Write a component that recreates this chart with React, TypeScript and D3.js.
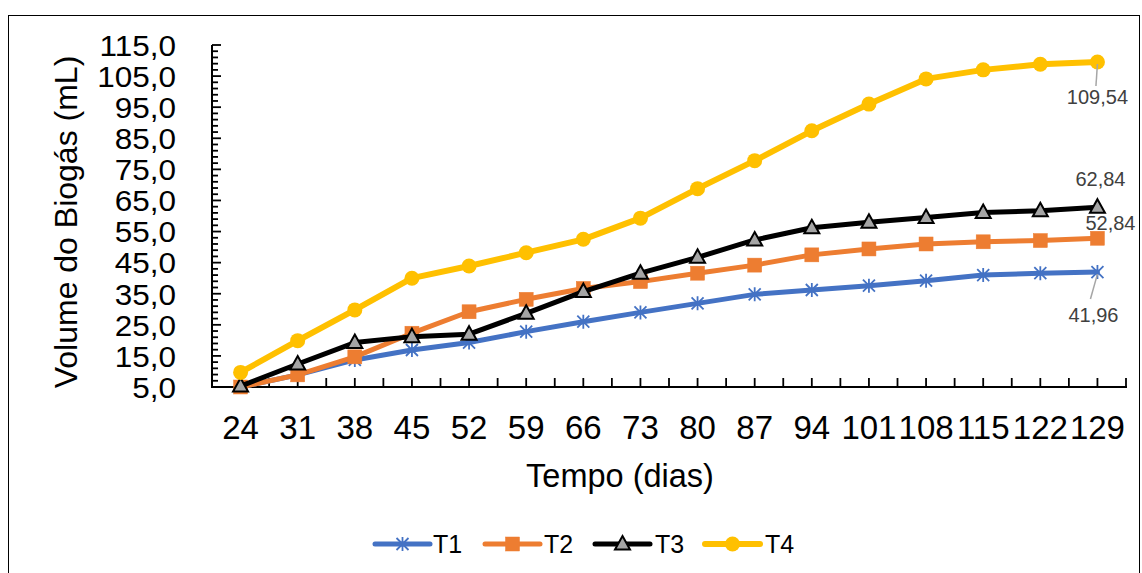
import React from "react";
import * as d3 from "d3";

const days = ["24", "31", "38", "45", "52", "59", "66", "73", "80", "87", "94", "101", "108", "115", "122", "129"];
const t1 = [5.0, 8.9, 13.7, 16.9, 19.3, 22.8, 26.0, 29.0, 31.9, 34.8, 36.2, 37.6, 39.2, 41.0, 41.6, 41.96];
const t2 = [5.0, 8.9, 14.7, 22.3, 29.2, 33.2, 36.7, 38.9, 41.6, 44.2, 47.5, 49.4, 51.0, 51.7, 52.1, 52.84];
const t3 = [5.3, 12.4, 19.3, 21.2, 22.0, 28.7, 35.7, 41.6, 46.7, 52.3, 56.2, 58.0, 59.5, 61.1, 61.7, 62.84];
const t4 = [9.7, 19.9, 29.8, 40.0, 43.9, 48.2, 52.5, 59.3, 68.8, 77.8, 87.4, 96.0, 104.1, 107.0, 108.8, 109.54];
const seriesNames = ["T1", "T2", "T3", "T4"];
const yTickValues = [5, 15, 25, 35, 45, 55, 65, 75, 85, 95, 105, 115];
const lastLabels = ["41,96", "52,84", "62,84", "109,54"];

const FONT = "'Liberation Sans', Arial, sans-serif";
const colors = ["#4472C4", "#ED7D31", "#000000", "#FFC000"];

function Marker({ kind, x, y }: { kind: number; x: number; y: number }) {
  if (kind === 0) {
    const r = 6;
    return (
      <path
        d={`M${x - r},${y - r}L${x + r},${y + r}M${x - r},${y + r}L${x + r},${y - r}M${x},${y - r - 1}L${x},${y + r + 1}`}
        stroke="#4472C4"
        strokeWidth={1.8}
        fill="none"
      />
    );
  }
  if (kind === 1) {
    return <rect x={x - 7} y={y - 7} width={14} height={14} fill="#ED7D31" stroke="#ED7D31" strokeWidth={0.5} />;
  }
  if (kind === 2) {
    return (
      <path
        d={`M${x},${y - 8}L${x + 7.5},${y + 5.5}L${x - 7.5},${y + 5.5}Z`}
        fill="#A5A5A5"
        stroke="#000"
        strokeWidth={2}
        strokeLinejoin="miter"
      />
    );
  }
  return <circle cx={x} cy={y} r={7.5} fill="#FFC000" />;
}

export default function App() {
  const W = 1142;
  const H = 573;
  const x = d3.scaleBand<string>().domain(days).range([212, 1126]).padding(0);
  const bw = x.bandwidth();
  const cx = (d: string) => (x(d) as number) + bw / 2;
  const y = d3.scaleLinear().domain([5, 115]).range([387, 45]);
  const all = [t1, t2, t3, t4];
  const line = d3
    .line<number>()
    .x((_, i) => cx(days[i]))
    .y((v) => y(v));

  const minorY = d3.range(5, 116, 2);
  const xTicks: number[] = [];
  for (let i = 0; i <= days.length * 2; i++) xTicks.push(212 + (i * bw) / 2);

  const lastX = cx(days[days.length - 1]);

  const legendItems = [
    { lx: 375, tx: 433 },
    { lx: 485, tx: 544 },
    { lx: 595, tx: 655 },
    { lx: 705, tx: 765 },
  ];
  const legendY = 544;

  return (
    <svg width={W} height={H} style={{ position: "absolute", left: 0, top: 0, background: "#fff" }} fontFamily={FONT}>
      <rect x={0} y={0} width={W} height={H} fill="#fff" />
      <rect x={8.5} y={15.5} width={1131} height={600} fill="none" stroke="#000" strokeWidth={1} />

      {/* y axis */}
      <line x1={212} y1={y(115)} x2={212} y2={y(5)} stroke="#000" strokeWidth={2} />
      {minorY.map((v) => {
        const major = (v - 5) % 10 === 0;
        return (
          <line key={"ym" + v} x1={212} x2={212 + (major ? 9 : 6)} y1={y(v)} y2={y(v)} stroke="#000" strokeWidth={1.8} />
        );
      })}
      {yTickValues.map((v) => (
        <text
          key={"yl" + v}
          transform={`translate(176,${y(v)}) scale(1.05,1)`}
          dy="0.36em"
          textAnchor="end"
          fontSize={30}
          fill="#000"
        >
          {d3.format(".1f")(v).replace(".", ",")}
        </text>
      ))}
      <text
        transform={`translate(77,${(y(5) + y(115)) / 2 + 6}) rotate(-90)`}
        textAnchor="middle"
        fontSize={32}
        fill="#000"
      >
        Volume do Biogás (mL)
      </text>

      {/* x axis */}
      <line x1={211} y1={387} x2={1127} y2={387} stroke="#000" strokeWidth={2} />
      {xTicks.map((t, i) => (
        <line key={"xt" + i} x1={t} x2={t} y1={387} y2={378} stroke="#000" strokeWidth={1.8} />
      ))}
      {days.map((d) => (
        <text key={"xl" + d} x={cx(d)} y={439} textAnchor="middle" fontSize={33} fill="#000">
          {d}
        </text>
      ))}
      <text x={620} y={487} textAnchor="middle" fontSize={32.5} fill="#000">
        Tempo (dias)
      </text>

      {/* series */}
      {all.map((s, k) => (
        <g key={"s" + k}>
          <path
            d={line(s) as string}
            fill="none"
            stroke={colors[k]}
            strokeWidth={k === 3 ? 6 : 5}
            strokeLinejoin="round"
            strokeLinecap="round"
          />
          {s.map((v, i) => (
            <Marker key={i} kind={k} x={cx(days[i])} y={y(v)} />
          ))}
        </g>
      ))}

      {/* data labels */}
      <line x1={lastX - 1.5} y1={86} x2={lastX} y2={y(t4[15]) + 2} stroke="#A6A6A6" strokeWidth={1.5} />
      <text x={lastX} y={104} textAnchor="middle" fontSize={20} fill="#404040">
        {lastLabels[3]}
      </text>
      <text x={lastX + 3} y={186} textAnchor="middle" fontSize={20} fill="#404040">
        {lastLabels[2]}
      </text>
      <text x={lastX + 13} y={230} textAnchor="middle" fontSize={20} fill="#404040">
        {lastLabels[1]}
      </text>
      <line x1={lastX - 7} y1={299} x2={lastX} y2={y(t1[15]) + 2} stroke="#A6A6A6" strokeWidth={1.5} />
      <text x={lastX - 4} y={322} textAnchor="middle" fontSize={20} fill="#404040">
        {lastLabels[0]}
      </text>

      {/* legend */}
      {legendItems.map((it, k) => (
        <g key={"lg" + k}>
          <line
            x1={it.lx}
            x2={it.lx + 55}
            y1={legendY}
            y2={legendY}
            stroke={colors[k]}
            strokeWidth={k === 3 ? 6 : 5}
            strokeLinecap="round"
          />
          <Marker kind={k} x={it.lx + 27.5} y={legendY} />
          <text x={it.tx} y={legendY} dy="0.36em" fontSize={25} fill="#000">
            {seriesNames[k]}
          </text>
        </g>
      ))}
    </svg>
  );
}
